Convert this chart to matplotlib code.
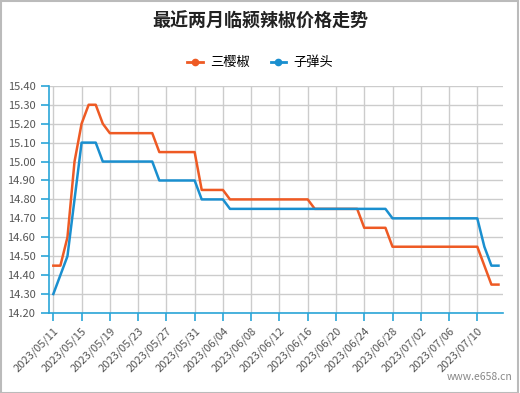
import matplotlib
matplotlib.use('Agg')
import matplotlib.pyplot as plt
from matplotlib.lines import Line2D
from matplotlib.patches import Rectangle
import pandas as pd

plt.rcParams['font.family'] = ['Noto Sans CJK SC', 'DejaVu Sans']

# data
start_date = '2023-05-11'
n_days = 64
series_names = ['三樱椒', '子弹头']
sanying = [14.45, 14.45, 14.60, 15.00, 15.20, 15.30, 15.30, 15.20,
           15.15, 15.15, 15.15, 15.15, 15.15, 15.15, 15.15,
           15.05, 15.05, 15.05, 15.05, 15.05, 15.05,
           14.85, 14.85, 14.85, 14.85,
           14.80, 14.80, 14.80, 14.80, 14.80, 14.80, 14.80, 14.80, 14.80, 14.80, 14.80, 14.80,
           14.75, 14.75, 14.75, 14.75, 14.75, 14.75, 14.75,
           14.65, 14.65, 14.65, 14.65,
           14.55, 14.55, 14.55, 14.55, 14.55, 14.55, 14.55, 14.55, 14.55, 14.55, 14.55, 14.55, 14.55,
           14.45, 14.35, 14.35]
zidantou = [14.30, 14.40, 14.50, 14.80, 15.10, 15.10, 15.10,
            15.00, 15.00, 15.00, 15.00, 15.00, 15.00, 15.00, 15.00,
            14.90, 14.90, 14.90, 14.90, 14.90, 14.90,
            14.80, 14.80, 14.80, 14.80,
            14.75, 14.75, 14.75, 14.75, 14.75, 14.75, 14.75, 14.75, 14.75, 14.75, 14.75, 14.75,
            14.75, 14.75, 14.75, 14.75, 14.75, 14.75, 14.75, 14.75, 14.75, 14.75, 14.75,
            14.70, 14.70, 14.70, 14.70, 14.70, 14.70, 14.70, 14.70, 14.70, 14.70, 14.70, 14.70, 14.70,
            14.55, 14.45, 14.45]
yticks = [14.20, 14.30, 14.40, 14.50, 14.60, 14.70, 14.80, 14.90, 15.00,
          15.10, 15.20, 15.30, 15.40]

dates = pd.date_range(start_date, periods=n_days)
labels = [d.strftime('%Y/%m/%d') for d in dates]
x = list(range(n_days))

orange = '#EE5A24'
blue = '#1A8FCF'
axis_col = '#2AA5D8'

fig = plt.figure(figsize=(5.2, 3.93), dpi=100)
ax = fig.add_axes([0.0948, 0.2036, 0.872, 0.578])

ax.plot(x, sanying, color=orange, lw=1.8, zorder=3)
ax.plot(x, zidantou, color=blue, lw=1.8, zorder=4)

ax.set_xlim(-0.57, 63.6)
ax.set_ylim(14.20, 15.40)
ax.set_yticks(yticks)
ax.set_yticklabels([f'{v:.2f}' for v in yticks])
ax.set_xticks(x[::4])
ax.set_xticklabels(labels[::4], rotation=45, ha='right', va='top',
                   rotation_mode='anchor')

ax.grid(True, color='#cccccc', lw=1)
ax.set_axisbelow(True)
for s in ['top', 'right']:
    ax.spines[s].set_visible(False)
for s in ['left', 'bottom']:
    ax.spines[s].set_color(axis_col)
    ax.spines[s].set_linewidth(1.2)
ax.tick_params(axis='both', colors=axis_col, length=6, width=1.2,
               labelcolor='#555555', labelsize=8)
ax.tick_params(axis='y', pad=4)
ax.tick_params(axis='x', pad=3)

fig.text(0.5, 0.945, '最近两月临颍辣椒价格走势', ha='center', va='center',
         fontsize=13, fontweight='bold', color='#222222')

handles = [Line2D([], [], color=orange, lw=2, marker='o', markersize=4.5),
           Line2D([], [], color=blue, lw=2, marker='o', markersize=4.5)]
fig.legend(handles, series_names, loc='center', bbox_to_anchor=(0.5, 0.84),
           ncol=2, frameon=False, fontsize=9.5, handlelength=1.2,
           handletextpad=0.5, columnspacing=1.6)

fig.text(0.985, 0.04, 'www.e658.cn', ha='right', va='center',
         fontsize=7.5, color='#888888')

fig.patches.append(Rectangle((0.001, 0.001), 0.996, 0.997, transform=fig.transFigure,
                             fill=False, edgecolor='#bbbbbb', lw=1.5))

fig.savefig('out.png', dpi=100)
